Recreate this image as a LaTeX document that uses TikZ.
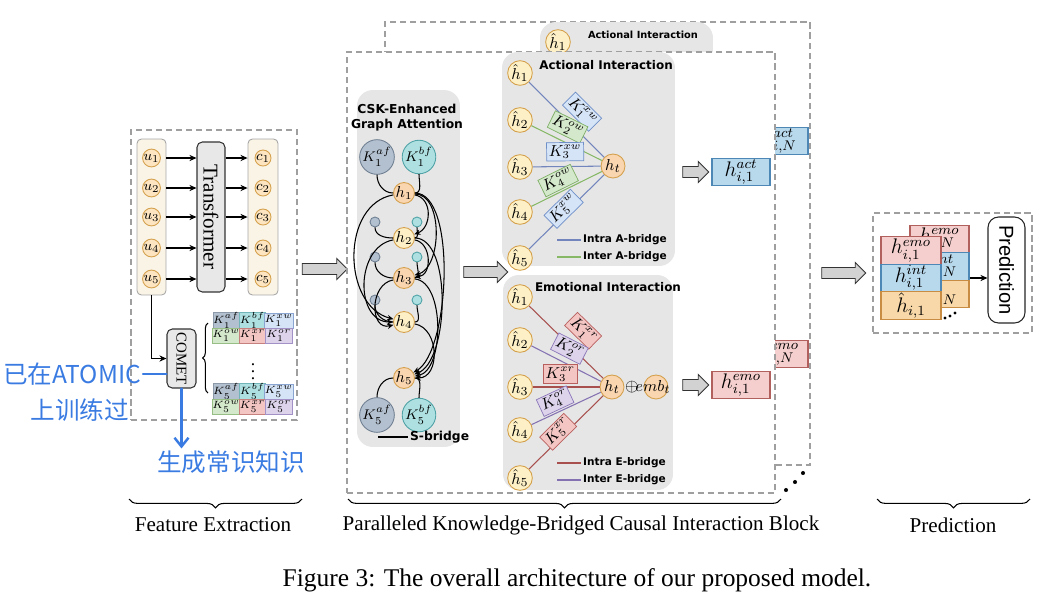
\documentclass[tikz,border=0pt]{standalone}
\usepackage[no-math]{fontspec}
\setmainfont{Liberation Serif}
\newfontfamily\boldsans{DejaVu Sans}
\newfontfamily\helv{Liberation Sans}
\newfontfamily\cjk{Noto Sans CJK SC}
\usepackage{graphicx}
\usetikzlibrary{arrows.meta,positioning,shapes.arrows,decorations.pathreplacing,calc}

\definecolor{ufill}{HTML}{FCE5C0}
\definecolor{uborder}{HTML}{D4A04C}
\definecolor{horange}{HTML}{F9D5B0}
\definecolor{hyel}{HTML}{FDF0C6}
\definecolor{cream}{HTML}{FAF4E6}
\definecolor{panelgray}{HTML}{E6E6E6}
\definecolor{affill}{HTML}{B3C0CF}\definecolor{afline}{HTML}{6F7F92}
\definecolor{bffill}{HTML}{AEE0E1}\definecolor{bfline}{HTML}{4FA2A6}
\definecolor{xwfill}{HTML}{D6E4F7}\definecolor{xwline}{HTML}{6E8FC8}
\definecolor{owfill}{HTML}{D4E8CB}\definecolor{owline}{HTML}{7DAE65}
\definecolor{xrfill}{HTML}{F3C6C4}\definecolor{xrline}{HTML}{B8605E}
\definecolor{orfill}{HTML}{DDD4EC}\definecolor{orline}{HTML}{8A76B8}
\definecolor{actfill}{HTML}{B8D8EC}\definecolor{actline}{HTML}{4D87B6}
\definecolor{emofill}{HTML}{F5CFCD}\definecolor{emoline}{HTML}{B2605E}
\definecolor{hatfill}{HTML}{F8D8A8}\definecolor{hatline}{HTML}{C88C42}
\definecolor{intraA}{HTML}{7285BC}\definecolor{interA}{HTML}{86B865}
\definecolor{intraE}{HTML}{A8504E}\definecolor{interE}{HTML}{8471B2}
\definecolor{hand}{HTML}{3A7BE2}

\begin{document}
\begin{tikzpicture}[x=0.02cm, y=-0.02cm,
  dashbox/.style={draw=gray!75, dash pattern=on 3.5pt off 2.2pt, line width=0.75pt, inner sep=0pt},
  colbox/.style={draw=gray!70, fill=cream, rounded corners=2.5pt, line width=0.5pt, inner sep=0pt},
  graybox/.style={draw=black!80, fill=gray!18, rounded corners=3pt, line width=0.6pt, inner sep=0pt},
  ucirc/.style={circle, draw=uborder, fill=ufill, line width=0.5pt, minimum size=0.32cm, inner sep=0pt, font=\fontsize{8.5}{8.5}\selectfont},
  arr/.style={-{Stealth[length=4pt,width=3.5pt]}, line width=0.6pt},
  kcell/.style={draw=#1line!80, fill=#1fill, minimum width=0.526cm, minimum height=0.3cm, inner sep=0pt, line width=0.3pt, font=\fontsize{6.5}{6.5}\selectfont},
  panel/.style={fill=panelgray, rounded corners=9pt, inner sep=0pt},
  paneltitle/.style={font=\boldsans\bfseries\fontsize{6.8}{8}\selectfont, inner sep=0pt},
  hnode/.style={circle, draw=uborder, fill=#1, line width=0.5pt, minimum size=0.4cm, inner sep=0pt, font=\fontsize{9}{9}\selectfont},
  kcirc/.style={circle, draw=#1line, fill=#1fill, line width=0.5pt, minimum size=0.48cm, inner sep=0pt, font=\fontsize{8.5}{8.5}\selectfont},
  sdot/.style={circle, draw=#1line, fill=#1fill, line width=0.5pt, minimum size=0.2cm, inner sep=0pt},
  sline/.style={line width=0.6pt},
  sarr/.style={-{Stealth[length=3.5pt,width=3pt]}, line width=0.6pt},
  hhat/.style={circle, draw=uborder, fill=#1, line width=0.5pt, minimum size=0.48cm, inner sep=0pt, font=\fontsize{9.5}{9.5}\selectfont},
  kbox/.style={draw=#1line, fill=#1fill, inner sep=1.2pt, line width=0.4pt, font=\fontsize{9}{9}\selectfont},
  brg/.style={draw=#1, line width=0.6pt},
  legtext/.style={font=\boldsans\bfseries\fontsize{6}{7}\selectfont, anchor=west, inner sep=1pt},
  fatarrow/.style={single arrow, draw=black!80, fill=gray!35, line width=0.5pt, inner xsep=0pt, inner ysep=0.1cm, minimum width=0.42cm, single arrow head extend=0.1cm, minimum height=#1},
  outbox/.style={draw=#1line, fill=#1fill, minimum width=1.16cm, minimum height=0.55cm, inner sep=0pt, line width=0.6pt, font=\fontsize{12}{12}\selectfont},
  curly/.style={decorate, decoration={brace, amplitude=#1}, line width=0.6pt},
  handtext/.style={text=hand, font=\cjk\fontsize{14}{16}\selectfont, inner sep=1pt},
  handline/.style={draw=hand, line width=1.4pt, line cap=round}
]
\useasboundingbox (0,0) rectangle (1063,593);

% ---------------- Feature Extraction ----------------
\node[dashbox, minimum width=3.32cm, minimum height=5.8cm] (featbox) at (214,275) {};
\node[colbox, minimum width=0.58cm, minimum height=3.12cm] (ucol) at (151.5,217) {};
\node[colbox, minimum width=0.6cm, minimum height=3.12cm] (ccol) at (263,217) {};
\node[graybox, minimum width=0.56cm, minimum height=3cm, font=\fontsize{12}{12}\selectfont] (trans) at (211,217) {\rotatebox{-90}{Transformer}};
\foreach \i/\y in {1/158,2/188,3/217,4/248,5/279} {
  \node[ucirc] (u\i) at (151.5,\y) {$u_{\i}$};
  \node[ucirc] (c\i) at (263,\y) {$c_{\i}$};
  \draw[arr] (ucol.east |- u\i) -- (trans.west |- u\i);
  \draw[arr] (trans.east |- c\i) -- (ccol.west |- c\i);
}

% COMET and knowledge tables
\node[graybox, minimum width=0.58cm, minimum height=1.18cm, font=\fontsize{8.5}{8.5}\selectfont] (comet) at (181.5,358.5) {\rotatebox{-90}{COMET}};
\draw[arr] (u5 |- ucol.south) |- (comet.west);
\coordinate (brlo) at (208,393);
\coordinate (brhi) at (208,323);
\draw[curly=3pt] (brlo) -- (brhi);
\foreach \r/\ya/\yb in {1/320.5/335.5, 5/391.5/406.5} {
  \node[kcell=af] (kaf\r) at (226.2,\ya) {$K_{\r}^{af}$};
  \node[kcell=bf] (kbf\r) at (252.5,\ya) {$K_{\r}^{bf}$};
  \node[kcell=xw] (kxw\r) at (278.8,\ya) {$K_{\r}^{xw}$};
  \node[kcell=ow] (kow\r) at (226.2,\yb) {$K_{\r}^{ow}$};
  \node[kcell=xr] (kxr\r) at (252.5,\yb) {$K_{\r}^{xr}$};
  \node[kcell=or] (kor\r) at (278.8,\yb) {$K_{\r}^{or}$};
}
\node[font=\fontsize{10}{10}\selectfont] (kdots) at (253,366) {$\vdots$};

% handwritten notes
\node[handtext] (atomic) at (72,374) {已在ATOMIC};
\node[handtext] (trained) at (80,410) {上训练过};
\node[handtext] (gen) at (231,462) {生成常识知识};
\draw[handline] (comet.west |- atomic) -- (atomic.east);
\draw[handline, -{Straight Barb[length=5pt,width=8pt]}] (comet.south) -- (comet.south |- gen.north);

\node[fatarrow=0.9cm] (fa1) at (322,269) {};

% ---------------- back block (N) ----------------
\node[dashbox, minimum width=8.5cm, minimum height=8.86cm] (backblock) at (597.5,243.5) {};
\node[panel, minimum width=3.46cm, minimum height=4.28cm] (bactpanel) at (626.5,129) {};
\node[paneltitle, font=\boldsans\bfseries\fontsize{5.6}{6}\selectfont] (bacttitle) at (643,35) {Actional Interaction};
\node[hhat=hyel] (bh1) at (558,42) {$\hat{h}_1$};
\coordinate (bht) at (651,136);
\draw[brg=intraA] (bh1) -- (bht);
\node[outbox=act] (actN) at (779,141) {$h_{i,N}^{act}$};
\node[outbox=emo] (emoN) at (779,354) {$h_{i,N}^{emo}$};

% ---------------- front block ----------------
\node[dashbox, fill=white, minimum width=8.56cm, minimum height=8.82cm] (frontblock) at (561,272.5) {};

% CSK-enhanced graph attention
\node[panel, minimum width=2.06cm, minimum height=7.14cm] (cskpanel) at (408.5,268.5) {};
\node[paneltitle, align=center, font=\boldsans\bfseries\fontsize{7}{8.5}\selectfont] (csktitle) at (407,118) {CSK-Enhanced\\Graph Attention};
\node[kcirc=af] (k1a) at (377,157) {$K_1^{af}$};
\node[kcirc=bf] (k1b) at (419,157) {$K_1^{bf}$};
\foreach \i/\y/\c in {1/193/horange,2/238/hyel,3/278/horange,4/322/hyel,5/378/horange}
  \node[hnode=\c] (h\i) at (404,\y) {$h_{\i}$};
\foreach \i/\y in {2/222,3/257,4/300} {
  \node[sdot=af] (sa\i) at (375,\y) {};
  \node[sdot=bf] (sb\i) at (417,\y) {};
  \draw[sline] (sa\i.south) to[out=-90,in=180] (h\i.west);
  \draw[sline] (sb\i.south) to[out=-90,in=0] (h\i.east);
}
\node[kcirc=af] (k5a) at (377,415) {$K_5^{af}$};
\node[kcirc=bf] (k5b) at (419,415) {$K_5^{bf}$};
\draw[sline] (k1a.south) to[out=-90,in=180] (h1.west);
\draw[sline] (k1b.south) to[out=-90,in=0] (h1.east);
\draw[sline] (k5a.north) to[out=90,in=180] (h5.west);
\draw[sline] (k5b.north) to[out=90,in=0] (h5.east);
% left arcs into h4
\draw[sarr] (h1.190) to[out=190,in=165,looseness=1.1] (h4.165);
\draw[sarr] (h2.190) to[out=190,in=180,looseness=1.2] (h4.west);
\draw[sarr] (h3.190) to[out=190,in=195,looseness=1.4] (h4.195);
% right arcs
\draw[sarr] (h1.-10) to[out=-10,in=20,looseness=1.2] (h2.20);
\draw[sarr] (h1.-5) to[out=0,in=15,looseness=0.9] (h3.15);
\draw[sarr] (h2.-10) to[out=-10,in=5,looseness=1.2] (h3.5);
\draw[sarr] (h1.0) to[out=0,in=30,looseness=0.6] (h5.30);
\draw[sarr] (h2.0) to[out=0,in=20,looseness=0.7] (h5.20);
\draw[sarr] (h3.-5) to[out=-5,in=10,looseness=0.8] (h5.10);
\draw[sarr] (h4.-10) to[out=-10,in=0,looseness=1.2] (h5.0);
\coordinate (lgSl) at (378,437);
\node[legtext, font=\boldsans\bfseries\fontsize{7}{8}\selectfont] (lgS) at (408,437) {S-bridge};
\draw[sline] (lgSl) -- (lgS);

\node[fatarrow=0.88cm] (fa2) at (483,272) {};

% Actional interaction
\node[panel, minimum width=3.46cm, minimum height=4.28cm] (actpanel) at (588.5,159) {};
\node[paneltitle] (acttitle) at (606,65) {Actional Interaction};
\foreach \i/\y in {1/73,2/120,3/167,4/212,5/258}
  \node[hhat=hyel] (a\i) at (520,\y) {$\hat{h}_{\i}$};
\node[hhat=horange] (at) at (613,166) {$h_t$};
\draw[brg=intraA] (a1) -- node[kbox=xw, sloped, above=4pt, pos=0.55] (ka1) {$K_1^{xw}$} (at);
\draw[brg=interA] (a2) -- node[kbox=ow, sloped, above=3pt, pos=0.42] (ka2) {$K_2^{ow}$} (at);
\draw[brg=intraA] (a3) -- node[kbox=xw, sloped, above=3pt, pos=0.48] (ka3) {$K_3^{xw}$} (at);
\draw[brg=interA] (a4) -- node[kbox=ow, sloped, above=1pt, pos=0.45] (ka4) {$K_4^{ow}$} (at);
\draw[brg=intraA] (a5) -- node[kbox=xw, sloped, above=-3pt, pos=0.5] (ka5) {$K_5^{xw}$} (at);
\coordinate (lgA1l) at (557,240);
\coordinate (lgA2l) at (557,257);
\node[legtext] (lgA1) at (581,240) {Intra A-bridge};
\node[legtext] (lgA2) at (581,257) {Inter A-bridge};
\draw[brg=intraA] (lgA1l) -- (lgA1);
\draw[brg=interA] (lgA2l) -- (lgA2);

% Emotional interaction
\node[panel, minimum width=3.4cm, minimum height=4.3cm] (emopanel) at (588,382.5) {};
\node[paneltitle] (emotitle) at (608,287) {Emotional Interaction};
\foreach \i/\y in {1/297,2/340,3/387,4/430,5/478}
  \node[hhat=hyel] (e\i) at (520,\y) {$\hat{h}_{\i}$};
\node[hhat=horange] (et) at (612,387) {$h_t$};
\node[inner sep=0pt, font=\fontsize{10}{10}\selectfont] (oplus) at (632,387) {$\oplus$};
\node[hhat=horange] (emb) at (656,387) {};
\node[inner sep=0pt, font=\fontsize{9.5}{9.5}\selectfont] (embtext) at (653,387) {$emb_t$};
\draw[brg=intraE] (e1) -- node[kbox=xr, sloped, above=6pt, pos=0.54] (ke1) {$K_1^{xr}$} (et);
\draw[brg=interE] (e2) -- node[kbox=or, sloped, above=3pt, pos=0.45] (ke2) {$K_2^{or}$} (et);
\draw[brg=intraE] (e3) -- node[kbox=xr, sloped, above=2pt, pos=0.41] (ke3) {$K_3^{xr}$} (et);
\draw[brg=interE] (e4) -- node[kbox=or, sloped, above=1pt, pos=0.41] (ke4) {$K_4^{or}$} (et);
\draw[brg=intraE] (e5) -- node[kbox=xr, sloped, above=-2pt, pos=0.45] (ke5) {$K_5^{xr}$} (et);
\coordinate (lgE1l) at (557,463);
\coordinate (lgE2l) at (557,480);
\node[legtext] (lgE1) at (581,463) {Intra E-bridge};
\node[legtext] (lgE2) at (581,480) {Inter E-bridge};
\draw[brg=intraE] (lgE1l) -- (lgE1);
\draw[brg=interE] (lgE2l) -- (lgE2);

% outputs of the block
\node[fatarrow=0.52cm] (oa) at (693,172) {};
\node[outbox=act] (act1) at (741,172) {$h_{i,1}^{act}$};
\node[fatarrow=0.52cm] (oe) at (693,385) {};
\node[outbox=emo] (emo1) at (741,385) {$h_{i,1}^{emo}$};
\foreach \i/\x/\y in {1/786/490,2/795/482,3/803/473}
  \node[circle, fill=black, inner sep=0pt, minimum size=2.3pt] (bd\i) at (\x,\y) {};

\node[fatarrow=0.88cm] (fa3) at (841,273) {};

% ---------------- Prediction ----------------
\node[dashbox, minimum width=3.18cm, minimum height=2.4cm] (predbox) at (952.5,273) {};
\node[outbox=emo, minimum width=1.18cm, minimum height=0.55cm] (nemo) at (939.5,239) {$h_{i,N}^{emo}$};
\node[outbox=act, minimum width=1.18cm, minimum height=0.55cm] (nint) at (939.5,266.5) {$h_{i,N}^{int}$};
\node[outbox=hat, minimum width=1.18cm, minimum height=0.55cm] (nhat) at (939.5,294) {$\hat{h}_{i,N}$};
\node[outbox=emo, minimum width=1.2cm, minimum height=0.55cm] (femo) at (911,250.5) {$h_{i,1}^{emo}$};
\node[outbox=act, minimum width=1.2cm, minimum height=0.55cm] (fint) at (911,278) {$h_{i,1}^{int}$};
\node[outbox=hat, minimum width=1.2cm, minimum height=0.55cm] (fhat) at (911,305.5) {$\hat{h}_{i,1}$};
\foreach \i/\x/\y in {1/945/318,2/950/316,3/955/313}
  \node[circle, fill=black, inner sep=0pt, minimum size=1.8pt] (pd\i) at (\x,\y) {};
\node[draw=black!85, fill=white, rounded corners=6pt, minimum width=0.74cm, minimum height=2.12cm, inner sep=0pt, line width=0.6pt, font=\helv\fontsize{11.5}{12}\selectfont] (pred) at (1006.5,270) {\rotatebox{-90}{Prediction}};
\draw[arr] (nint.east |- fint) -- (pred.west |- fint);

% ---------------- braces and labels ----------------
\coordinate (bfR) at (302,499);
\coordinate (bfL) at (129,499);
\coordinate (bbR) at (781,499);
\coordinate (bbL) at (348,499);
\coordinate (bpR) at (1030,499);
\coordinate (bpL) at (877,499);
\draw[curly=5pt] (bfR) -- (bfL);
\draw[curly=5pt] (bbR) -- (bbL);
\draw[curly=5pt] (bpR) -- (bpL);
\node[font=\fontsize{12}{14}\selectfont] (lbfeat) at (213,525) {Feature Extraction};
\node[font=\fontsize{12}{14}\selectfont] (lbblock) at (581,525) {Paralleled Knowledge-Bridged Causal Interaction Block};
\node[font=\fontsize{12}{14}\selectfont] (lbpred) at (953,525) {Prediction};
\node[font=\fontsize{14.5}{16}\selectfont] (caption) at (577,580) {Figure 3: The overall architecture of our proposed model.};
\end{tikzpicture}
\end{document}
